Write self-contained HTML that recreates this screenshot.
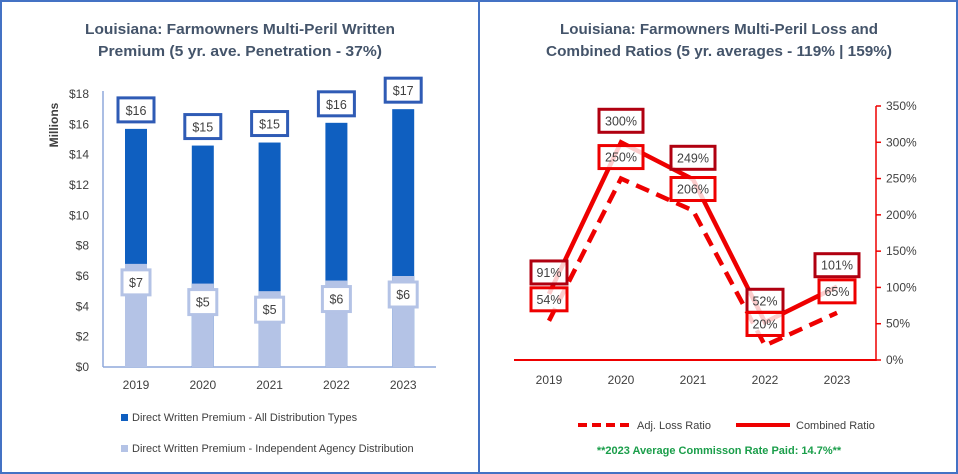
<!DOCTYPE html>
<html><head><meta charset="utf-8"><style>
html,body{margin:0;padding:0;background:#fff}
svg{display:block;font-family:"Liberation Sans",sans-serif}
</style></head><body>
<svg id="c" width="958" height="474" viewBox="0 0 958 474">
<rect x="1" y="1" width="956" height="472" fill="#fff" stroke="#4472c4" stroke-width="2"/>
<line x1="479" y1="0" x2="479" y2="474" stroke="#4472c4" stroke-width="2"/>
<g fill="#44546a" font-weight="bold" font-size="14.5" text-anchor="middle">
<text x="240" y="34" textLength="310" lengthAdjust="spacingAndGlyphs">Louisiana: Farmowners Multi-Peril Written</text>
<text x="240" y="56" textLength="284" lengthAdjust="spacingAndGlyphs">Premium (5 yr. ave. Penetration - 37%)</text>
</g>
<g fill="#44546a" font-weight="bold" font-size="14.5" text-anchor="middle">
<text x="719" y="34" textLength="318" lengthAdjust="spacingAndGlyphs">Louisiana: Farmowners Multi-Peril Loss and</text>
<text x="719" y="56" textLength="346" lengthAdjust="spacingAndGlyphs">Combined Ratios (5 yr. averages - 119% | 159%)</text>
</g>
<g id="left"></g><g id="right"></g>
<g font-size="11" fill="#404040">
<rect x="121" y="414" width="7" height="7" fill="#0f5fc0"/>
<text x="132" y="421">Direct Written Premium - All Distribution Types</text>
<rect x="121" y="445" width="7" height="7" fill="#b4c3e6"/>
<text x="132" y="452">Direct Written Premium - Independent Agency Distribution</text>
</g>
<g font-size="11" fill="#404040">
<line x1="578" y1="425" x2="633" y2="425" stroke="#e00" stroke-width="4" stroke-dasharray="9,5"/>
<text x="637" y="429">Adj. Loss Ratio</text>
<line x1="736" y1="425" x2="790" y2="425" stroke="#e00" stroke-width="4"/>
<text x="796" y="429">Combined Ratio</text>
<text x="719" y="454" text-anchor="middle" fill="#1a9e4a" font-weight="bold" font-size="11">**2023 Average Commisson Rate Paid: 14.7%**</text>
</g>
</svg>
<script>
const years=["2019","2020","2021","2022","2023"];
const totalPrem=[15.7,14.6,14.8,16.1,17.0];
const totalLabels=["$16","$15","$15","$16","$17"];
const indepPrem=[6.8,5.5,5.0,5.7,6.0];
const indepLabels=["$7","$5","$5","$6","$6"];
const leftTicks=[0,2,4,6,8,10,12,14,16,18];
const combined=[91,300,249,52,101];
const lossRatio=[54,250,206,20,65];
const rightTicks=[0,50,100,150,200,250,300,350];
const NS="http://www.w3.org/2000/svg";
function mk(p,t,a){const e=document.createElementNS(NS,t);for(const k in a)e.setAttribute(k,a[k]);p.appendChild(e);return e;}
const L=document.getElementById('left'),R=document.getElementById('right');
const ly=v=>367-v*(273/18), lx=i=>136+i*66.8;
const ry=v=>360-v*(254/350), rx=i=>549+i*72;
let e=mk(L,'line',{x1:103,y1:91,x2:103,y2:367,stroke:'#8fa8dc','stroke-width':1.5});

e=mk(L,'line',{x1:103,y1:367,x2:436,y2:367,stroke:'#8fa8dc','stroke-width':1.5});

leftTicks.forEach(v=>{const t=mk(L,'text',{x:89,y:ly(v)+4,'text-anchor':'end','font-size':12,fill:'#404040'});t.textContent='$'+v;
});
e=mk(L,'text',{x:58,y:125,'text-anchor':'middle','font-size':12,'font-weight':'bold',fill:'#404040',transform:'rotate(-90 58 125)'});e.textContent='Millions';

years.forEach((y,i)=>{const x=lx(i);
 let b=mk(L,'rect',{x:x-11,y:ly(totalPrem[i]),width:22,height:ly(0)-ly(totalPrem[i]),fill:'#0f5fc0'});
 
 b=mk(L,'rect',{x:x-11,y:ly(indepPrem[i]),width:22,height:ly(0)-ly(indepPrem[i]),fill:'#b4c3e6'});
 
 let ty=ly(totalPrem[i])-19;
 b=mk(L,'rect',{x:x-18,y:ty-12,width:36,height:24,fill:'#fff',stroke:'#2f5bb5','stroke-width':3});
 
 let t=mk(L,'text',{x:x,y:ty+5,'text-anchor':'middle','font-size':12.5,fill:'#404040'});t.textContent=totalLabels[i];
 
 let iy=ly(indepPrem[i])+18;
 b=mk(L,'rect',{x:x-14,y:iy-12,width:28,height:25,fill:'#fff',stroke:'#b4c3e6','stroke-width':3});
 
 t=mk(L,'text',{x:x,y:iy+5,'text-anchor':'middle','font-size':12.5,fill:'#404040'});t.textContent=indepLabels[i];
 
 t=mk(L,'text',{x:x,y:389,'text-anchor':'middle','font-size':12,fill:'#404040'});t.textContent=y;
 
});
e=mk(R,'line',{x1:514,y1:360,x2:876,y2:360,stroke:'#e00','stroke-width':2});

e=mk(R,'line',{x1:876,y1:106,x2:876,y2:361,stroke:'#e00','stroke-width':1.5});

rightTicks.forEach(v=>{mk(R,'line',{x1:876,y1:ry(v),x2:881,y2:ry(v),stroke:'#e00','stroke-width':1.5});
 const t=mk(R,'text',{x:886,y:ry(v)+4,'font-size':12,fill:'#404040'});t.textContent=v+'%';
 });
years.forEach((y,i)=>{const t=mk(R,'text',{x:rx(i),y:384,'text-anchor':'middle','font-size':12,fill:'#404040'});t.textContent=y;
 });
const pts=a=>a.map((v,i)=>rx(i)+','+ry(v)).join(' ');
e=mk(R,'polyline',{points:pts(lossRatio),fill:'none',stroke:'#e00','stroke-width':4.5,'stroke-dasharray':'14,8'});

e=mk(R,'polyline',{points:pts(combined),fill:'none',stroke:'#e00','stroke-width':4.5});

function lab(v,i,col,nm){const x=rx(i),y=ry(v)-22,w=v>=100?44:36;
 const b=mk(R,'rect',{x:x-w/2,y:y-11,width:w,height:23,fill:'rgba(255,255,255,0.8)',stroke:col,'stroke-width':3});
 
 const t=mk(R,'text',{x:x,y:y+5,'text-anchor':'middle','font-size':12.5,fill:'#404040'});t.textContent=v+'%';
 }
years.forEach((y,i)=>{lab(combined[i],i,'#b00010','combined-'+y);lab(lossRatio[i],i,'#e00','loss-'+y);});
</script>
</body></html>
